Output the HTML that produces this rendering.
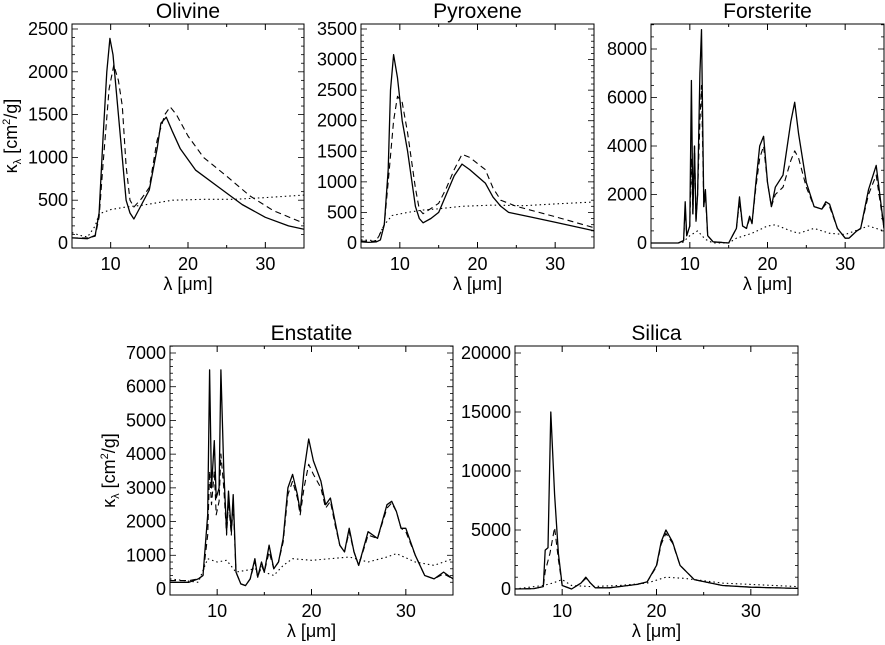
<!DOCTYPE html>
<html><head><meta charset="utf-8">
<style>
html,body{margin:0;padding:0;background:#fff;}
svg{display:block;font-family:"Liberation Sans",sans-serif;}
</style></head>
<body>
<svg id="fig" width="885" height="645" viewBox="0 0 885 645" xmlns="http://www.w3.org/2000/svg"></svg>
<script>
// ---- Olivine ----
const olSolidX=[5,7,8,8.5,9,9.5,9.9,10.3,11,12,12.5,13,14,15,16,16.5,17.2,18,19,21,24,27,30,33,35];
const olSolidY=[60,50,90,350,1200,2000,2390,2200,1500,500,350,280,450,620,1100,1400,1470,1300,1100,850,650,450,300,200,160];
const olDashX=[5,7,8,8.5,9,9.8,10.4,11,11.5,12,12.5,13,14,15,16,17,17.7,18.5,20,22,25,28,31,35];
const olDashY=[60,60,80,300,900,1800,2080,1900,1600,900,500,420,520,650,1200,1500,1590,1500,1250,1000,780,550,380,230];
const olDotX=[5,6,7,8,8.5,10,12,14,16,18,22,26,30,35];
const olDotY=[120,90,70,200,340,390,420,440,470,500,510,510,530,560];
// ---- Pyroxene ----
const pySolidX=[5,6,7,7.5,8,8.5,8.8,9.2,9.7,10.3,11,12,12.5,13,14,15,16,17,18,19,21,22,23,24,27,30,35];
const pySolidY=[20,10,20,50,300,1200,2500,3080,2700,2000,1500,600,400,330,400,500,800,1100,1290,1200,980,750,600,500,420,340,200];
const pyDashX=[5,7,8,8.5,9.2,9.7,10.3,11,12,12.5,13,15,16,17,18,19,21,22,23,25,30,35];
const pyDashY=[30,30,300,1000,2000,2400,2300,1800,900,550,480,650,900,1200,1450,1400,1200,900,700,600,430,250];
const pyDotX=[5,7,8,9,11,13,15,18,22,26,30,35];
const pyDotY=[50,40,300,450,500,540,560,600,620,610,640,670];
// ---- Forsterite ----
const foSolidX=[5,8.5,9.2,9.4,9.6,10,10.2,10.4,10.6,10.8,11,11.3,11.5,11.8,12,12.3,13,15,15.5,16,16.4,16.8,17.3,17.7,18,18.5,19,19.5,20,20.5,21,22,23,23.5,24,25,26,27,27.5,28,29,30,30.5,31.5,32,33,34,35];
const foSolidY=[0,0,100,1700,300,700,6700,1200,4000,900,2000,7000,8800,1500,2200,300,50,0,300,600,1900,700,600,1100,800,2500,4000,4400,2500,1500,2300,2800,5000,5800,4500,2500,1500,1400,1700,1600,600,200,200,500,600,2200,3200,600];
const foDashX=[5,8.5,9.2,9.4,9.6,10,10.2,10.4,10.6,10.8,11,11.3,11.5,11.8,12,12.3,13,15,15.5,16,16.4,16.8,17.3,17.7,18,18.5,19,19.5,20,20.5,21,22,23,23.5,24,25,26,27,27.5,28,29,30,30.5,31.5,32,33,34,35];
const foDashY=[0,0,100,1400,300,700,3500,1200,4000,900,2000,5000,6500,1500,2000,300,50,0,300,600,1700,700,600,1000,800,2300,3500,4000,2500,1500,2000,2300,3400,3800,3500,2300,1500,1400,1600,1500,600,200,200,500,600,2000,2800,600];
const foDotX=[5,9,10,11,12,13,15,16,18,20,21,23,24,26,28,30,33,35];
const foDotY=[0,0,300,500,150,0,0,200,400,700,750,500,400,600,400,350,700,500];
// ---- Enstatite ----
const enSolidX=[5,7,8,8.5,9,9.2,9.4,9.7,9.9,10.2,10.4,10.7,11,11.2,11.5,11.7,12,12.5,13,13.5,14,14.3,14.7,15,15.5,16,16.5,17,17.5,18,18.5,18.8,19.2,19.7,20.2,21,21.5,22,22.5,23,23.5,24,24.5,25,26,27,28,28.5,29,29.5,30,31,32,33,34,35];
const enSolidY=[200,200,300,400,2200,6500,3000,4400,2700,3000,6500,3500,1700,2900,1700,2800,500,150,100,300,900,350,800,500,1300,600,800,1500,3000,3400,2800,2300,3500,4450,3800,3200,2500,2700,2000,1300,1100,1800,1100,700,1700,1500,2500,2600,2300,1800,1800,1000,400,300,500,300];
const enDashX=enSolidX.slice();
const enDashY=[250,250,300,400,1600,3500,2500,3500,2200,2600,4000,3000,1600,2600,1600,2500,500,150,100,300,800,350,700,500,1100,600,800,1400,2800,3200,2700,2200,3000,3700,3400,3000,2400,2600,1900,1300,1100,1700,1100,700,1600,1500,2400,2550,2300,1800,1700,1000,400,300,450,300];
const enDotX=[5,8,9,10,11,12,14,16,17,18,20,22,24,26,28,29,31,33,35];
const enDotY=[300,200,900,800,850,500,600,400,700,900,850,900,950,800,950,1050,800,700,900];
// ---- Silica ----
const siSolidX=[5,7,8,8.2,8.5,8.8,9.2,9.6,10,11,12,12.5,13,13.5,15,17,18,19,20,20.5,21,21.7,22.5,24,27,30,35];
const siSolidY=[0,30,200,3300,3500,15000,8000,3000,300,0,500,1000,500,100,100,300,400,600,2000,4000,5000,4000,2000,800,300,150,50];
const siDashX=[5,7,8,8.2,8.7,9.2,9.6,10,11,12,12.5,13,13.5,15,17,18,19,20,20.5,21,21.7,22.5,24,27,30,35];
const siDashY=[0,30,200,1500,3000,5200,2500,300,0,500,900,500,100,100,300,400,600,1900,3800,4700,3900,2000,800,300,150,50];
const siDotX=[5,8,9,10,11,13,16,19,21,23,27,35];
const siDotY=[0,300,500,800,300,200,300,500,1000,900,500,200];

const yTicksOl=[0,500,1000,1500,2000,2500];
const yTicksPy=[0,500,1000,1500,2000,2500,3000,3500];
const yTicksFo=[0,2000,4000,6000,8000];
const yTicksEn=[0,1000,2000,3000,4000,5000,6000,7000];
const yTicksSi=[0,5000,10000,15000,20000];
const xTicks=[10,20,30];

const NS="http://www.w3.org/2000/svg";
const svg=document.getElementById('fig');
function mk(tag,attrs,parent){const e=document.createElementNS(NS,tag);for(const k in attrs)e.setAttribute(k,attrs[k]);(parent||svg).appendChild(e);return e;}

const panels=[
 {key:'olivine',title:'Olivine',L:72,R:304,T:24,B:248,y0:243,yTop:29,yTopVal:2500,yt:yTicksOl,minor:100,ylabel:true,s:[olSolidX,olSolidY,olDashX,olDashY,olDotX,olDotY]},
 {key:'pyroxene',title:'Pyroxene',L:361,R:594,T:24,B:248,y0:243,yTop:29,yTopVal:3500,yt:yTicksPy,minor:100,ylabel:false,s:[pySolidX,pySolidY,pyDashX,pyDashY,pyDotX,pyDotY]},
 {key:'forsterite',title:'Forsterite',L:651,R:884,T:24,B:248,y0:243,yTop:49,yTopVal:8000,yt:yTicksFo,minor:500,ylabel:false,s:[foSolidX,foSolidY,foDashX,foDashY,foDotX,foDotY]},
 {key:'enstatite',title:'Enstatite',L:170,R:453,T:346,B:595,y0:589,yTop:353,yTopVal:7000,yt:yTicksEn,minor:200,ylabel:true,s:[enSolidX,enSolidY,enDashX,enDashY,enDotX,enDotY]},
 {key:'silica',title:'Silica',L:515,R:798,T:346,B:595,y0:589,yTop:353,yTopVal:20000,yt:yTicksSi,minor:1000,ylabel:false,s:[siSolidX,siSolidY,siDashX,siDashY,siDotX,siDotY]}
];

panels.forEach(p=>{
  const g=mk('g',{});
  
  
  const xs=v=>p.L+(v-5)/30*(p.R-p.L);
  const ys=v=>p.y0-(v/p.yTopVal)*(p.y0-p.yTop);
  const cx=(p.L+p.R)/2;
  const t=mk('text',{x:cx,y:p.T-6,'text-anchor':'middle','font-size':21},g);
  t.textContent=p.title;
  
  
  const cid='clip-'+p.key;
  const cp=mk('clipPath',{id:cid},g);
  mk('rect',{x:p.L,y:p.T,width:p.R-p.L,height:p.B-p.T},cp);
  const styles=[{d:'',w:1.3,n:'solid-curve'},{d:'6,4',w:1.1,n:'dashed-curve'},{d:'1.5,3',w:1.1,n:'dotted-curve'}];
  styles.forEach((st,i)=>{
    const X=p.s[2*i],Y=p.s[2*i+1];
    const pts=X.map((x,j)=>xs(x).toFixed(1)+','+ys(Y[j]).toFixed(1)).join(' ');
    const pl=mk('polyline',{points:pts,fill:'none',stroke:'#000','stroke-width':st.w,'stroke-dasharray':st.d,'clip-path':'url(#'+cid+')','stroke-linejoin':'round'},g);
    
    
  });
  const fr=mk('rect',{x:p.L,y:p.T,width:p.R-p.L,height:p.B-p.T,fill:'none',stroke:'#000','stroke-width':1},g);
  
  
  for(let v=5;v<=35;v+=5){
    const x=xs(v),len=(v%10===0)?6:3;
    mk('line',{x1:x,x2:x,y1:p.B,y2:p.B-len,stroke:'#000'},g);
    mk('line',{x1:x,x2:x,y1:p.T,y2:p.T+len,stroke:'#000'},g);
  }
  xTicks.forEach(v=>{
    const tl=mk('text',{x:xs(v),y:p.B+22,'text-anchor':'middle','font-size':18},g);
    tl.textContent=v;
    
    
  });
  const xl=mk('text',{x:cx,y:p.B+42,'text-anchor':'middle','font-size':18},g);
  xl.textContent='λ [μm]';
  
  
  const vmin=(p.y0-p.B)/(p.y0-p.yTop)*-p.yTopVal, vmax=(p.y0-p.T)/(p.y0-p.yTop)*p.yTopVal;
  for(let v=Math.ceil(vmin/p.minor)*p.minor;v<=vmax;v+=p.minor){
    const y=ys(v),major=p.yt.includes(v),len=major?6:3;
    mk('line',{x1:p.L,x2:p.L+len,y1:y,y2:y,stroke:'#000','stroke-width':0.8},g);
    mk('line',{x1:p.R,x2:p.R-len,y1:y,y2:y,stroke:'#000','stroke-width':0.8},g);
  }
  p.yt.forEach(v=>{
    const tl=mk('text',{x:p.L-4,y:ys(v)+6,'text-anchor':'end','font-size':18},g);
    tl.textContent=v;
    
    
  });
  if(p.ylabel){
    const yc=(p.T+p.B)/2, xx=p.L-55;
    const yl=mk('text',{x:xx,y:yc,'text-anchor':'middle','font-size':18,transform:'rotate(-90 '+xx+' '+yc+')'},g);
    yl.innerHTML='κ<tspan font-size="11" dy="4">λ</tspan><tspan dy="-4"> [cm</tspan><tspan font-size="11" dy="-7">2</tspan><tspan dy="7">/g]</tspan>';
    
    
  }
});
</script>
</body></html>
